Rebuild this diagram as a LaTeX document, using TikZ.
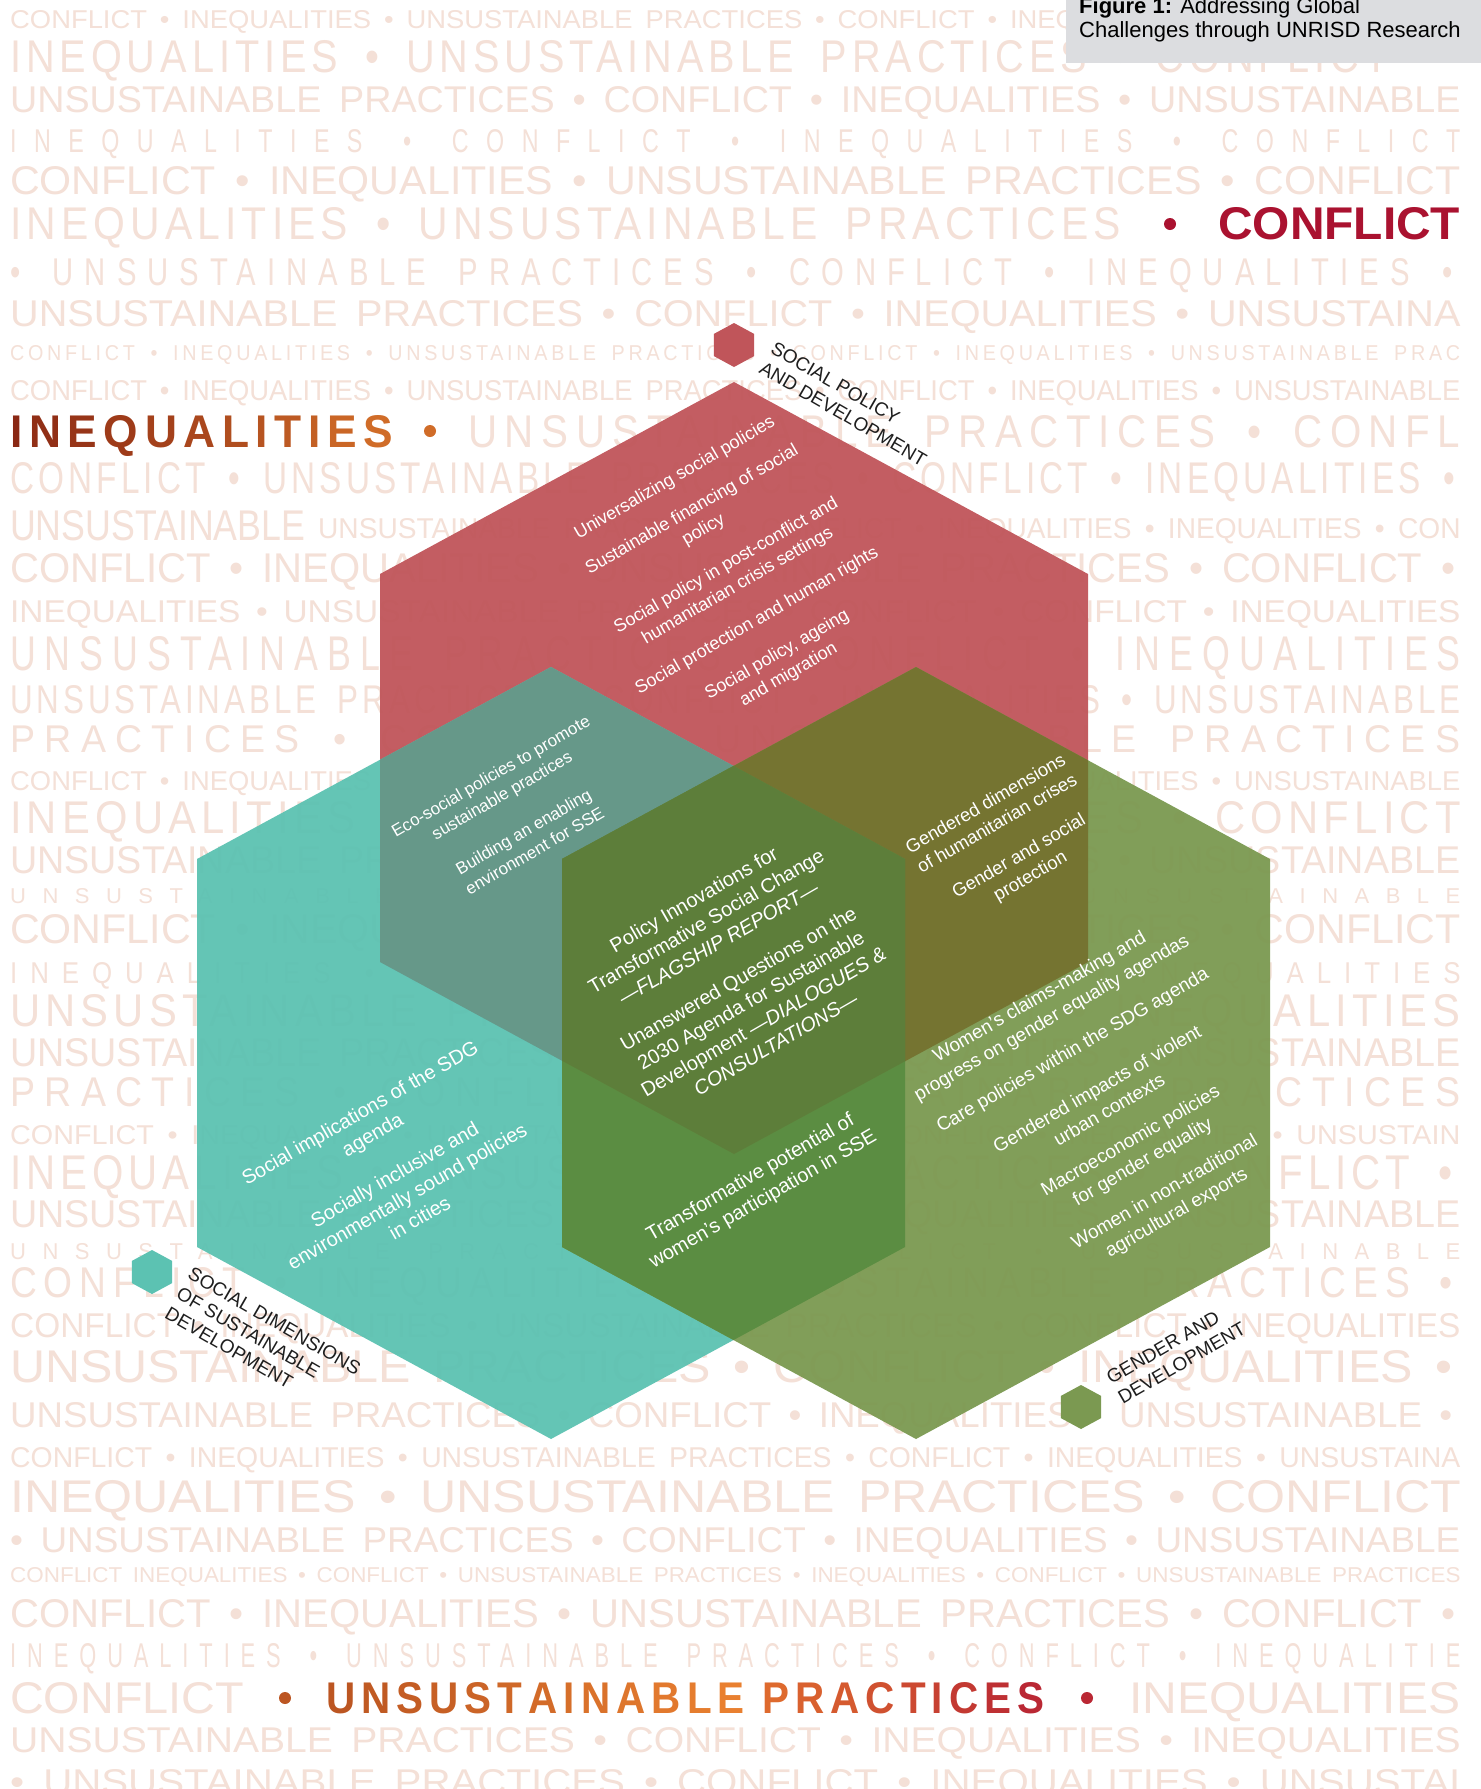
\documentclass[tikz,border=0pt]{standalone}
\usepackage{fontspec}
\usepackage{graphicx}
\usepackage{xcolor}
\setmainfont{Liberation Sans}
\newfontfamily\bgfont[FakeStretch=0.8, WordSpace=1.7]{Liberation Sans}
\definecolor{redhex}{RGB}{192,85,90}
\definecolor{tealhex}{RGB}{92,194,178}
\definecolor{greenhex}{RGB}{123,153,81}

\begin{document}
\begin{tikzpicture}[x=1pt,y=-1pt,
    bgword/.style={inner sep=0pt, anchor=base west, text=wordlight, font=\bgfont},
    hexnote/.style={inner sep=0pt, text=white, rotate=30, align=center, font=\fontsize{18}{23}\selectfont},
    catlabel/.style={inner sep=0pt, text=labelgray, align=left, font=\fontsize{19}{23}\selectfont}]
                    % Define colors for overlaps and words
                    \definecolor{redteal}{RGB}{103,151,136}
                    \definecolor{redgreen}{RGB}{117,115,48}
                    \definecolor{tealgreen}{RGB}{90,141,65}
                    \definecolor{coregreen}{RGB}{94,126,58}
                    \definecolor{wordlight}{RGB}{244,224,215}
                    \definecolor{conflictred}{RGB}{170,18,48}
                    \definecolor{ineqdark}{RGB}{138,40,20}
                    \definecolor{ineqlight}{RGB}{208,108,40}
                    \definecolor{unsusA}{RGB}{188,86,34}
                    \definecolor{unsusB}{RGB}{233,128,48}
                    \definecolor{unsusC}{RGB}{222,106,46}
                    \definecolor{unsusD}{RGB}{186,40,52}
                    \definecolor{titlegray}{RGB}{220,221,224}
                    \definecolor{labelgray}{RGB}{30,30,30}

                    % Page frame
                    \useasboundingbox (0,0) rectangle (1481,1789);
                    \clip (0,0) rectangle (1481,1789);
                    \fill[white] (0,0) rectangle (1481,1789);

                    % Hexagon outline (centre x, centre y, scale)
                    \def\hexpath#1#2#3{(#1,#2-386*#3) -- (#1+354*#3,#2-194*#3) -- (#1+354*#3,#2+194*#3) -- (#1,#2+386*#3) -- (#1-354*#3,#2+194*#3) -- (#1-354*#3,#2-194*#3) -- cycle}
                    % Word with a colour running from letter to letter
                    \def\gradword#1#2#3#4{\foreach \letr [count=\k] in {#1}{\ifnum\k>1\kern0.12em\fi\pgfmathtruncatemacro\pc{100-100*(\k-1)/(#2-1)}\textcolor{#3!\pc!#4}{\letr}}}

                    % Background lines of words (baseline/cap height/width/tracking/text)
                    \foreach \yb/\capht/\lw/\trk/\txt [count=\n] in {
                        28/18/1450/0/CONFLICT • INEQUALITIES • UNSUSTAINABLE PRACTICES • CONFLICT • INEQUALITIES • UNSUSTAINABLE,
                        72/32/1378/10/INEQUALITIES • UNSUSTAINABLE PRACTICES • CONFLICT,
                        112/26/1450/0/UNSUSTAINABLE PRACTICES • CONFLICT • INEQUALITIES • UNSUSTAINABLE,
                        152/23/1450/60/INEQUALITIES • CONFLICT • INEQUALITIES • CONFLICT,
                        194/28/1450/0/CONFLICT • INEQUALITIES • UNSUSTAINABLE PRACTICES • CONFLICT,
                        285/27/1442/30/• UNSUSTAINABLE PRACTICES • CONFLICT • INEQUALITIES •,
                        326/26/1450/0/UNSUSTAINABLE PRACTICES • CONFLICT • INEQUALITIES • UNSUSTAINA,
                        360/15/1450/15/CONFLICT • INEQUALITIES • UNSUSTAINABLE PRACTICES • CONFLICT • INEQUALITIES • UNSUSTAINABLE PRAC,
                        400/20/1450/0/CONFLICT • INEQUALITIES • UNSUSTAINABLE PRACTICES • CONFLICT • INEQUALITIES • UNSUSTAINABLE,
                        493/31/1445/10/CONFLICT • UNSUSTAINABLE PRACTICES • CONFLICT • INEQUALITIES •,
                        582/29/1445/0/CONFLICT • INEQUALITIES • UNSUSTAINABLE PRACTICES • CONFLICT •,
                        622/22/1450/0/INEQUALITIES • UNSUSTAINABLE PRACTICES • CONFLICT • CONFLICT • INEQUALITIES,
                        670/34/1450/20/UNSUSTAINABLE PRACTICES • CONFLICT • INEQUALITIES,
                        713/28/1450/10/UNSUSTAINABLE PRACTICES • CONFLICT • INEQUALITIES • UNSUSTAINABLE,
                        752/27/1450/20/PRACTICES • CONFLICT • UNSUSTAINABLE PRACTICES,
                        790/19/1450/0/CONFLICT • INEQUALITIES • UNSUSTAINABLE PRACTICES • CONFLICT • INEQUALITIES • UNSUSTAINABLE,
                        833/32/1450/10/INEQUALITIES • UNSUSTAINABLE PRACTICES • CONFLICT,
                        873/27/1450/0/UNSUSTAINABLE PRACTICES • CONFLICT • INEQUALITIES • UNSUSTAINABLE,
                        903/15/1450/60/UNSUSTAINABLE PRACTICES • CONFLICT • UNSUSTAINABLE,
                        943/29/1450/0/CONFLICT • INEQUALITIES • UNSUSTAINABLE PRACTICES • CONFLICT,
                        983/21/1450/40/INEQUALITIES • UNSUSTAINABLE PRACTICES • INEQUALITIES,
                        1026/32/1450/10/UNSUSTAINABLE PRACTICES • CONFLICT • INEQUALITIES,
                        1066/28/1450/0/UNSUSTAINABLE PRACTICES • CONFLICT • INEQUALITIES • UNSUSTAINABLE,
                        1106/29/1450/20/PRACTICES • CONFLICT • UNSUSTAINABLE PRACTICES,
                        1144/19/1450/0/CONFLICT • INEQUALITIES • UNSUSTAINABLE PRACTICES • CONFLICT • INEQUALITIES • UNSUSTAIN,
                        1189/34/1442/10/INEQUALITIES • UNSUSTAINABLE PRACTICES • CONFLICT •,
                        1227/27/1450/0/UNSUSTAINABLE PRACTICES • CONFLICT • INEQUALITIES • UNSUSTAINABLE,
                        1259/16/1450/60/UNSUSTAINABLE PRACTICES • CONFLICT • UNSUSTAINABLE,
                        1297/30/1442/15/CONFLICT • INEQUALITIES • UNSUSTAINABLE PRACTICES •,
                        1337/24/1450/0/CONFLICT • INEQUALITIES • UNSUSTAINABLE PRACTICES • CONFLICT • INEQUALITIES,
                        1382/32/1442/0/UNSUSTAINABLE PRACTICES • CONFLICT • INEQUALITIES •,
                        1427/25/1442/0/UNSUSTAINABLE PRACTICES • CONFLICT • INEQUALITIES • UNSUSTAINABLE •,
                        1467/20/1450/0/CONFLICT • INEQUALITIES • UNSUSTAINABLE PRACTICES • CONFLICT • INEQUALITIES • UNSUSTAINA,
                        1512/32/1450/0/INEQUALITIES • UNSUSTAINABLE PRACTICES • CONFLICT,
                        1552/25/1450/0/• UNSUSTAINABLE PRACTICES • CONFLICT • INEQUALITIES • UNSUSTAINABLE,
                        1582/15/1450/0/CONFLICT INEQUALITIES • CONFLICT • UNSUSTAINABLE PRACTICES • INEQUALITIES • CONFLICT • UNSUSTAINABLE PRACTICES,
                        1627/28/1445/0/CONFLICT • INEQUALITIES • UNSUSTAINABLE PRACTICES • CONFLICT •,
                        1667/24/1450/40/INEQUALITIES • UNSUSTAINABLE PRACTICES • CONFLICT • INEQUALITIE,
                        1752/25/1450/0/UNSUSTAINABLE PRACTICES • CONFLICT • INEQUALITIES • INEQUALITIES,
                        1794/25/1450/0/• UNSUSTAINABLE PRACTICES • CONFLICT • INEQUALITIES • UNSUSTAI} {
                        \node[bgword] (ln\n) at (10,\yb) {\resizebox{\lw pt}{\capht pt}{\addfontfeature{LetterSpace=\trk}\txt}};
                    }

                    % Line with CONFLICT picked out
                    \node[bgword] (conflictrest) at (10,239) {\resizebox{1110pt}{32pt}{\addfontfeature{LetterSpace=10}INEQUALITIES • UNSUSTAINABLE PRACTICES}};
                    \fill[conflictred] (1170,224) circle (6);
                    \node[bgword, text=conflictred, font=\bgfont\bfseries] (conflict) at (1218,239) {\resizebox{242pt}{32pt}{CONFLICT}};

                    % Line with INEQUALITIES picked out
                    \node[bgword, font=\bgfont\bfseries] (inequalities) at (10,447) {\resizebox{383pt}{32pt}{\gradword{I,N,E,Q,U,A,L,I,T,I,E,S}{12}{ineqdark}{ineqlight}}};
                    \fill[ineqlight] (430,431) circle (6);
                    \node[bgword] (ineqrest) at (468,447) {\resizebox{992pt}{32pt}{\addfontfeature{LetterSpace=15}UNSUSTAINABLE PRACTICES • CONFL}};

                    % Line of two sizes
                    \node[bgword] (mixbig) at (10,540) {\resizebox{295pt}{30pt}{UNSUSTAINABLE}};
                    \node[bgword] (mixsmall) at (318,538) {\resizebox{1142pt}{20pt}{UNSUSTAINABLE PRACTICES • CONFLICT • INEQUALITIES • INEQUALITIES • CON}};

                    % Line with UNSUSTAINABLE PRACTICES picked out
                    \node[bgword] (unsusfirst) at (10,1713) {\resizebox{234pt}{31pt}{CONFLICT}};
                    \fill[unsusA] (285,1698) circle (6);
                    \node[bgword, font=\bgfont\bfseries] (unsustainable) at (326,1713) {\resizebox{718pt}{31pt}{\gradword{U,N,S,U,S,T,A,I,N,A,B,L,E}{13}{unsusA}{unsusB}\kern0.35em\gradword{P,R,A,C,T,I,C,E,S}{9}{unsusC}{unsusD}}};
                    \fill[unsusD] (1087,1698) circle (6);
                    \node[bgword] (unsuslast) at (1129,1713) {\resizebox{331pt}{31pt}{INEQUALITIES}};

                    % Draw the three research hexagons
                    \fill[redhex, fill opacity=0.95] \hexpath{734}{768}{1};
                    \fill[tealhex, fill opacity=0.95] \hexpath{551}{1053}{1};
                    \fill[greenhex, fill opacity=0.95] \hexpath{916}{1053}{1};

                    % Overlaps of the hexagons
                    \begin{scope}
                        \clip \hexpath{734}{768}{1};
                        \fill[redteal, fill opacity=0.95] \hexpath{551}{1053}{1};
                        \fill[redgreen, fill opacity=0.95] \hexpath{916}{1053}{1};
                    \end{scope}
                    \begin{scope}
                        \clip \hexpath{551}{1053}{1};
                        \fill[tealgreen, fill opacity=0.95] \hexpath{916}{1053}{1};
                    \end{scope}
                    \begin{scope}
                        \clip \hexpath{734}{768}{1};
                        \clip \hexpath{551}{1053}{1};
                        \fill[coregreen, fill opacity=0.95] \hexpath{916}{1053}{1};
                    \end{scope}

                    % Small hexagon markers
                    \fill[redhex] \hexpath{734}{345}{0.057};
                    \fill[tealhex] \hexpath{152}{1272}{0.057};
                    \fill[greenhex] \hexpath{1081}{1407}{0.057};

                    % Social policy topics
                    \node[hexnote] (sp1) at (675,478) {Universalizing social policies};
                    \node[hexnote] (sp2) at (698,520) {Sustainable financing of social\\policy};
                    \node[hexnote] (sp3) at (732,576) {Social policy in post-conflict and\\humanitarian crisis settings};
                    \node[hexnote] (sp4) at (757,621) {Social protection and human rights};
                    \node[hexnote] (sp5) at (783,665) {Social policy, ageing\\and migration};

                    % Shared topics
                    \node[hexnote, font=\fontsize{17}{22}\selectfont] (eco1) at (497,787) {Eco-social policies to promote\\sustainable practices};
                    \node[hexnote, font=\fontsize{17}{22}\selectfont] (eco2) at (529,841) {Building an enabling\\environment for SSE};
                    \node[hexnote, font=\fontsize{20}{25}\selectfont] (core1) at (706,921) {Policy Innovations for\\Transformative Social Change\\\textit{---FLAGSHIP REPORT---}};
                    \node[hexnote, font=\fontsize{20}{25}\selectfont] (core2) at (757,1011) {Unanswered Questions on the\\2030 Agenda for Sustainable\\Development \textit{---DIALOGUES \&}\\\textit{CONSULTATIONS---}};
                    \node[hexnote, font=\fontsize{18.5}{23}\selectfont] (gh1) at (991,813) {Gendered dimensions\\of humanitarian crises};
                    \node[hexnote, font=\fontsize{18.5}{23}\selectfont] (gh2) at (1025,867) {Gender and social\\protection};
                    \node[hexnote, font=\fontsize{20}{25}\selectfont] (sse) at (757,1189) {Transformative potential of\\women's participation in SSE};

                    % Gender topics
                    \node[hexnote, font=\fontsize{19}{24}\selectfont] (gd1) at (1046,1008) {Women's claims-making and\\progress on gender equality agendas};
                    \node[hexnote, font=\fontsize{19}{24}\selectfont] (gd2) at (1073,1051) {Care policies within the SDG agenda};
                    \node[hexnote, font=\fontsize{19}{24}\selectfont] (gd3) at (1103,1099) {Gendered impacts of violent\\urban contexts};
                    \node[hexnote, font=\fontsize{19}{24}\selectfont] (gd4) at (1137,1152) {Macroeconomic policies\\for gender equality};
                    \node[hexnote, font=\fontsize{19}{24}\selectfont] (gd5) at (1171,1203) {Women in non-traditional\\agricultural exports};

                    % Sustainable development topics
                    \node[hexnote, font=\fontsize{20}{25}\selectfont] (sd1) at (367,1125) {Social implications of the SDG\\agenda};
                    \node[hexnote, font=\fontsize{20}{25}\selectfont] (sd2) at (407,1196) {Socially inclusive and\\environmentally sound policies\\in cities};

                    % Programme labels
                    \node[catlabel, rotate=-30] (lblsp) at (849,404) {SOCIAL POLICY\\AND DEVELOPMENT};
                    \node[catlabel, rotate=-30] (lblsd) at (263,1341) {SOCIAL DIMENSIONS\\OF SUSTAINABLE\\DEVELOPMENT};
                    \node[catlabel, rotate=30] (lblgd) at (1176,1353) {GENDER AND\\DEVELOPMENT};

                    % Title box
                    \fill[titlegray] (1066,-5) rectangle (1486,63);
                    \node[anchor=north west, inner sep=0pt, align=left, font=\fontsize{22}{24}\selectfont] (title) at (1079,-3) {\textbf{Figure 1:} Addressing Global\\Challenges through UNRISD Research};

                \end{tikzpicture}
\end{document}
